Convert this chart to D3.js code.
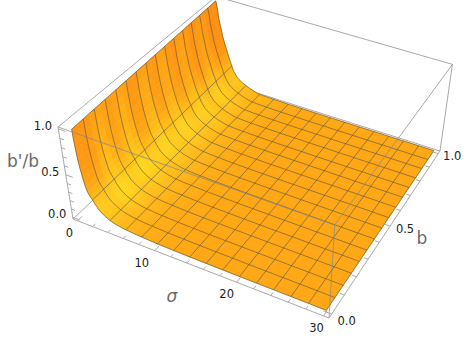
<!DOCTYPE html>
<html>
<head>
<meta charset="utf-8">
<script src="https://cdn.jsdelivr.net/npm/d3@7"></script>
<style>
body { margin: 0; background: white; }
svg { display: block; }
text { font-family: "DejaVu Sans", sans-serif; }
</style>
</head>
<body>
<div class="chart"></div>
<script>
// surface b'/b: one profile along the b=0 side, one along the b=1 side
const sigmaFront = [0.6, 0.65, 0.71, 0.8, 0.95, 1.1, 1.3, 1.5, 1.75, 2, 2.25, 2.5, 2.75, 3, 3.5, 4, 4.5, 5, 5.5, 6, 7, 8, 9, 10, 12, 14, 16, 18, 20, 22, 24, 26, 28, 30];
const sigmaBack = [-0.3, -0.1, 0.02, 0.25, 0.5, 0.8, 1.13, 1.3, 1.5, 1.77, 2, 2.25, 2.55, 2.8, 3.3, 3.8, 4.3, 4.85, 5.35, 5.85, 6.9, 7.9, 8.95, 10, 12, 14, 16, 18, 20, 22, 24, 26, 28, 30];
const ratioFront = [1, 0.88, 0.79, 0.68, 0.57, 0.48, 0.39, 0.33, 0.29, 0.26, 0.22, 0.19, 0.16, 0.14, 0.11, 0.085, 0.07, 0.06, 0.05, 0.045, 0.035, 0.03, 0.025, 0.02, 0.015, 0.012, 0.01, 0.008, 0.006, 0.005, 0.004, 0.003, 0.002, 0];
const ratioBack = [1, 0.9, 0.81, 0.72, 0.61, 0.52, 0.43, 0.38, 0.33, 0.264, 0.21, 0.175, 0.137, 0.12, 0.09, 0.07, 0.05, 0.035, 0.02, 0.012, 0.008, 0.005, 0.003, 0.002, 0.001, 0, 0, 0, 0, 0, 0, 0, 0, 0];
// colour tone of each sigma sample: -1 dark orange, 0 plain orange, 1 yellow
const toneValues = [-0.45, -0.45, -0.4, -0.35, -0.3, -0.2, -0.02, 0.13, 0.28, 0.42, 0.54, 0.62, 0.66, 0.66, 0.6, 0.52, 0.45, 0.38, 0.32, 0.27, 0.2, 0.14, 0.08, 0.05, 0.03, 0.02, 0.01, 0, 0, 0, 0, 0, 0, 0];
const streakWeights = [0.6, 0.8, 1, 1, 1, 1, 0.9, 0.7, 0.5, 0.45, 0.45, 0.45, 0.4, 0.4, 0.35, 0.3, 0.25, 0.2, 0.1, 0.1, 0, 0, 0, 0, 0, 0, 0, 0, 0, 0, 0, 0, 0, 0];
const bValues = [0, 0.033, 0.067, 0.1, 0.133, 0.167, 0.2, 0.233, 0.267, 0.3, 0.333, 0.367, 0.4, 0.433, 0.467, 0.5, 0.533, 0.567, 0.6, 0.633, 0.667, 0.7, 0.733, 0.767, 0.8, 0.833, 0.867, 0.9, 0.933, 0.967, 1];
const streakValues = [0, -0.1, -0.1, 0.3, 0.7, 0.7, 0.2, 0.3, 0.7, 0.7, 0.2, -0.1, 0.3, 0.7, 0.4, -0.1, 0.2, 0.6, 0.3, -0.2, 0, 0.4, 0.3, -0.3, -0.3, 0.2, 0.25, -0.3, -0.4, -0.4, -0.3];
const meshSigma = [2, 4, 6, 8, 10, 12, 14, 16, 18, 20, 22, 24, 26, 28];
const meshB = [0.067, 0.133, 0.2, 0.267, 0.333, 0.4, 0.467, 0.533, 0.6, 0.667, 0.733, 0.8, 0.867, 0.933];

const sigmaTicks = [0, 2, 4, 6, 8, 10, 12, 14, 16, 18, 20, 22, 24, 26, 28, 30];
const sigmaLabels = [0, 10, 20, 30];
const unitTicks = [0, 0.1, 0.2, 0.3, 0.4, 0.5, 0.6, 0.7, 0.8, 0.9, 1];
const unitLabels = [0, 0.5, 1];
const sigmaLabelShift = [-8, -13, -10, -7];
const bLabelShift = [[15, 11], [15, 7], [14, 6]];

const width = 471, height = 338;

const svg = d3.select('.chart').append('svg')
    .attr('width', width)
    .attr('height', height);

const sScale = d3.scaleLinear().domain([-0.6, 30.6]).range([0, 1]);
const bScale = d3.scaleLinear().domain([-0.02, 1.02]).range([0, 1]);
const zScale = d3.scaleLinear().domain([-0.02, 1.02]).range([0, 1]);
const toneColor = d3.scaleLinear().domain([-1, 0, 1]).range(['#ff8412', '#ffa714', '#ffdc20']).clamp(true);

// camera: box corners on screen, named by (sigma, b, z)
const P000 = [73, 219, 1], P100 = [329, 318, 1], P001 = [58, 127, 1], P101 = [335, 221, 1],
    P110 = [440, 151, 1], P111 = [452, 62, 1], P011 = [216, 0, 1];

const cross = (a, b) => [a[1]*b[2]-a[2]*b[1], a[2]*b[0]-a[0]*b[2], a[0]*b[1]-a[1]*b[0]];
const dot = (a, b) => a[0]*b[0]+a[1]*b[1]+a[2]*b[2];
// the hidden back corner comes from the vanishing points of the other edges
const vanishB = cross(cross(P101, P111), cross(P100, P110));
const vanishZ = cross(cross(P001, P000), cross(P111, P110));
const hh = cross(cross(P000, vanishB), cross(P011, vanishZ));
const P010 = [hh[0]/hh[2], hh[1]/hh[2], 1];

// o = a*p + b*q + c*r
function solve3(p, q, r, o) {
    const det = dot(p, cross(q, r));
    return [dot(o, cross(q, r))/det, dot(p, cross(o, r))/det, dot(p, cross(q, o))/det];
}
const baseK = solve3(P100, P010, P110.map(v => -v), P000);
const sideK = solve3(P100, P001, P101.map(v => -v), P000);
const U = P100.map((v, i) => baseK[0]*v - P000[i]);
const V = P010.map((v, i) => baseK[1]*v - P000[i]);
const W = P001.map((v, i) => sideK[1]*v - P000[i]);

function project(sigma, b, z) {
    const s = sScale(sigma), t = bScale(b), u = zScale(z);
    const h = P000.map((v, i) => v + s*U[i] + t*V[i] + u*W[i]);
    return [h[0]/h[2], h[1]/h[2]];
}

// surface point of sample i at position b
const surf = (i, b) => project(
    d3.interpolateNumber(sigmaFront[i], sigmaBack[i])(b), b,
    d3.interpolateNumber(ratioFront[i], ratioBack[i])(b));

const line = d3.line();
const boxColor = '#a9a9a9';
const [sLo, sHi] = sScale.domain(), [bLo, bHi] = bScale.domain(), [zLo, zHi] = zScale.domain();

function edge(g, a, b, color, opacity) {
    g.append('path')
        .attr('d', line([project(...a), project(...b)]))
        .attr('fill', 'none')
        .attr('stroke', color)
        .attr('stroke-opacity', opacity)
        .attr('stroke-width', 1);
}

// back of the box
const back = svg.append('g');
edge(back, [sLo, bHi, zHi], [sHi, bHi, zHi], boxColor, 1);
edge(back, [sHi, bHi, zHi], [sHi, bHi, zLo], boxColor, 1);
edge(back, [sLo, bLo, zLo], [sLo, bHi, zLo], boxColor, 1);
edge(back, [sLo, bHi, zLo], [sHi, bHi, zLo], boxColor, 1);
edge(back, [sLo, bLo, zHi], [sLo, bHi, zHi], boxColor, 1);

// surface cells, far ones first
const cells = [];
for (let i = 0; i < sigmaFront.length - 1; i++) {
    for (let j = bValues.length - 2; j >= 0; j--) {
        cells.push({i, j, tone: (toneValues[i] + toneValues[i+1])/2
            + (streakValues[j] + streakValues[j+1])/2*(streakWeights[i] + streakWeights[i+1])/2*0.75 });
    }
}
const cellPath = d => {
    const b0 = bValues[d.j], b1 = bValues[d.j+1];
    return line([surf(d.i, b0), surf(d.i, b1), surf(d.i+1, b1), surf(d.i+1, b0)]) + 'Z';
};
svg.append('g').selectAll('path')
    .data(cells)
    .enter()
    .append('path')
    .attr('d', cellPath)
    .attr('fill', d => toneColor(d.tone))
    .attr('stroke', d => toneColor(d.tone))
    .attr('stroke-width', 0.6);

// mesh
const meshColor = '#4a4a3a';
const alongSigma = b => sigmaFront.map((s, i) => surf(i, b));
const alongB = i => bValues.map(b => surf(i, b));
const mesh = svg.append('g').attr('fill', 'none').attr('stroke', meshColor);
mesh.selectAll('.b-line').data(meshB).enter().append('path')
    .attr('class', 'b-line')
    .attr('d', d => line(alongSigma(d)))
    .attr('stroke-opacity', 0.7)
    .attr('stroke-width', 0.8);
mesh.selectAll('.s-line').data(meshSigma).enter().append('path')
    .attr('class', 's-line')
    .attr('d', d => line(alongB(sigmaFront.indexOf(d))))
    .attr('stroke-opacity', 0.7)
    .attr('stroke-width', 0.8);
// outline of the surface
mesh.append('path')
    .attr('d', line(alongSigma(0).concat(alongB(sigmaFront.length - 1), alongSigma(1).reverse(), alongB(0).reverse())) + 'Z')
    .attr('stroke-opacity', 0.8)
    .attr('stroke-width', 0.7);

// front of the box, lies over the surface
const front = svg.append('g');
edge(front, [sLo, bLo, zHi], [sHi, bLo, zHi], '#8a8a8a', 0.75);
edge(front, [sHi, bLo, zHi], [sHi, bHi, zHi], '#8a8a8a', 0.75);
edge(front, [sHi, bLo, zHi], [sHi, bLo, zLo], '#8a8a8a', 0.75);
edge(front, [sLo, bLo, zLo], [sHi, bLo, zLo], boxColor, 1);
edge(front, [sHi, bLo, zLo], [sHi, bHi, zLo], boxColor, 1);
edge(front, [sLo, bLo, zLo], [sLo, bLo, zHi], boxColor, 1);

// ticks point into the box
const isMajor = (list, v) => list.includes(v);
const ticks = svg.append('g');
sigmaTicks.forEach(v => {
    const len = isMajor(sigmaLabels, v) ? 0.028 : 0.016;
    edge(ticks, [v, bLo, zLo], [v, bLo + len, zLo], boxColor, 1);
});
unitTicks.forEach(v => {
    const len = isMajor(unitLabels, v) ? 0.9 : 0.5;
    edge(ticks, [sHi, v, zLo], [sHi - len, v, zLo], boxColor, 1);
    edge(ticks, [sLo, bLo, v], [sLo + len, bLo, v], boxColor, 1);
});

// tick labels
const tickFont = 11.5;
function tickLabel(pos, dx, dy, str) {
    svg.append('text')
        .attr('x', pos[0] + dx)
        .attr('y', pos[1] + dy)
        .attr('text-anchor', 'middle')
        .attr('font-size', tickFont)
        .attr('fill', '#222')
        .text(str);
}
sigmaLabels.forEach((v, i) => tickLabel(project(v, bLo, zLo), sigmaLabelShift[i], 16, v));
unitLabels.forEach((v, i) => tickLabel(project(sHi, v, zLo), bLabelShift[i][0], bLabelShift[i][1], d3.format('.1f')(v)));
unitLabels.forEach(v => tickLabel(project(sLo, bLo, v), -15.5, 1, d3.format('.1f')(v)));

// axis labels
const axisLabel = (x, y, str, style) => svg.append('text')
    .attr('x', x)
    .attr('y', y)
    .attr('text-anchor', 'middle')
    .attr('font-size', 17)
    .attr('font-style', style)
    .attr('fill', '#6b6b6b')
    .text(str);
axisLabel(172, 302, 'σ', 'italic');
axisLabel(422, 244, 'b', 'normal');
axisLabel(23, 167, "b'/b", 'normal');
</script>
</body>
</html>
